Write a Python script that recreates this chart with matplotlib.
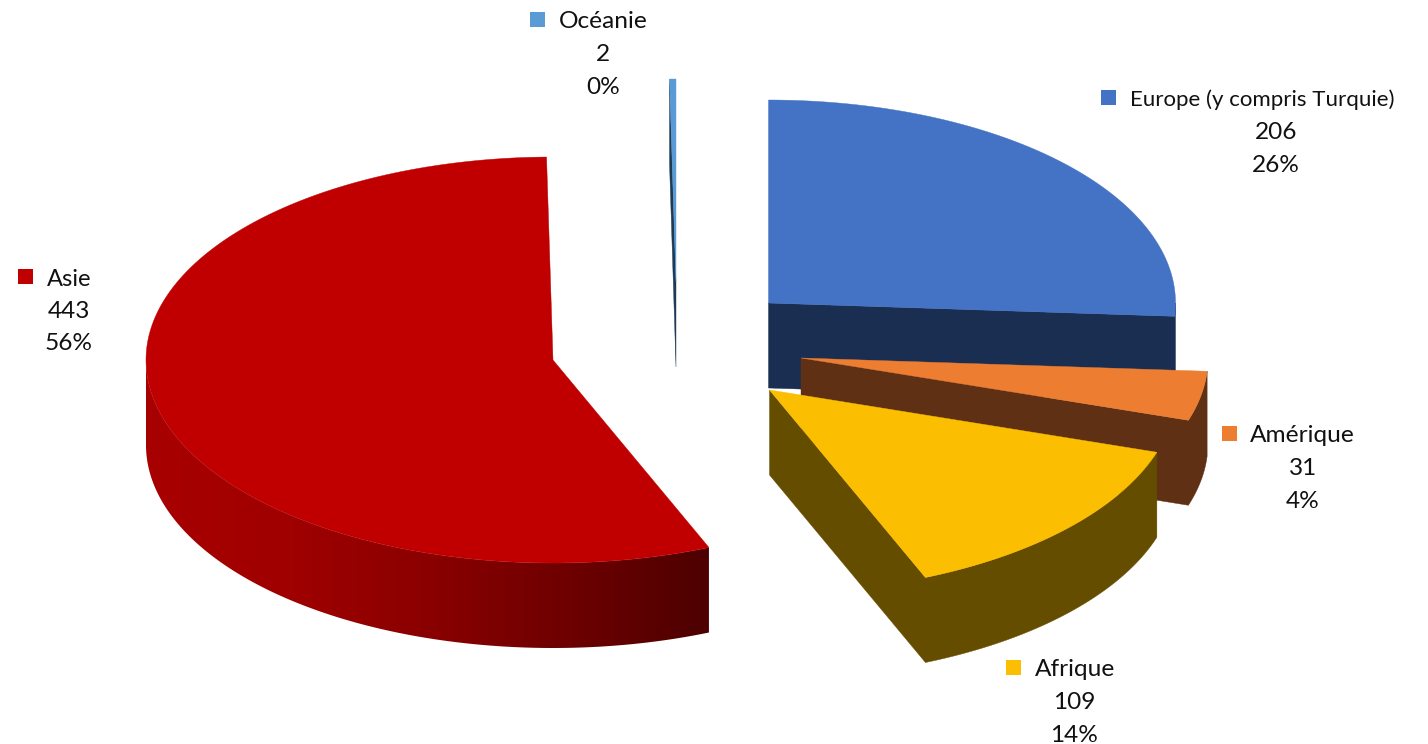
import numpy as np
import matplotlib
matplotlib.use("Agg")
import matplotlib.pyplot as plt
from matplotlib.patches import Polygon, Rectangle

# --- data ---
names = ["Europe (y compris Turquie)", "Amérique", "Afrique", "Asie", "Océanie"]
values = [206, 31, 109, 443, 2]

# --- style / layout (pixels) ---
top_colors = ["#4472C4", "#ED7D31", "#FBBE00", "#C00000", "#5B9BD5"]
wall_colors = ["#1A2E52", "#5F3013", "#654D00", "#A00000", "#1F3A55"]
apex = [(768.5, 303), (801, 358), (769.5, 390), (553, 360), (676, 282)]
label_xy = [(1276, 100), (1303, 436), (1074, 670), (69, 279), (603, 22)]
marker_x = [1101, 1222, 1006, 18, 530]
name_x = [1130, 1250, 1035, 47, 559]
name_size = [16, 17.6, 17.6, 17, 17.6]
RX, RY, DEPTH = 407, 203, 85
LINE = 32.5

plt.rcParams["font.family"] = ["Lato", "DejaVu Sans"]

fig = plt.figure(figsize=(14.28, 7.44), dpi=100)
ax = fig.add_axes([0, 0, 1, 1])


def rim(center, t0, t1, n=200):
    # clockwise from 12 o'clock, angles in degrees
    t = np.radians(np.linspace(t0, t1, n))
    return np.column_stack([center[0] + RX * np.sin(t), center[1] - RY * np.cos(t)])


def down(pts):
    return pts + np.array([0, DEPTH])


def fill(pts, color, z):
    ax.add_patch(Polygon(pts, closed=True, fc=color, ec=color, lw=0.3, zorder=z))


edges = np.concatenate([[0], np.cumsum(values)]) / sum(values) * 360
draw_order = [0, 4, 3, 1, 2]

for z, i in enumerate(draw_order):
    t0, t1 = edges[i], edges[i + 1]
    c = np.array(apex[i], dtype=float)
    base = z * 10

    if names[i] == "Océanie":
        # thin slice: only the cut face on the left shows
        edge = rim(c, t0, t0, 2)[:1]
        fill(np.vstack([edge, down(edge), down(c[None]), c[None]]), wall_colors[i], base)
    elif names[i] == "Asie":
        # outer wall with a dark gradient, left to right
        arc = rim(c, t0, 270)
        wall = Polygon(np.vstack([arc, down(arc)[::-1]]), closed=True, fc="none", ec="none",
                       transform=ax.transData)
        ax.add_patch(wall)
        grad = np.linspace(0, 1, 256).reshape(1, -1)
        cmap = matplotlib.colors.LinearSegmentedColormap.from_list(
            "asie", ["#A80000", "#A00000", "#8A0000", "#6E0000", "#4D0000"])
        im = ax.imshow(grad, cmap=cmap, extent=(arc[:, 0].min(), arc[:, 0].max(), 660, 300),
                       aspect="auto", zorder=base, interpolation="bilinear")
        im.set_clip_path(wall)
    else:
        # outer wall (front of the rim) and cut face at the slice end, as one shape
        arc = rim(c, max(t0, 90), min(t1, 270))
        fill(np.vstack([arc, c[None], down(c[None]), down(arc)[::-1]]), wall_colors[i], base)

    # top face
    fill(np.vstack([c[None], rim(c, t0, t1)]), top_colors[i], base + 2)

# --- labels ---
for i, name in enumerate(names):
    x, y = label_xy[i]
    pct = round(values[i] / sum(values) * 100)
    ax.text(name_x[i], y, name, ha="left", va="center", fontsize=name_size[i],
            color="#111111", zorder=100)
    for k, line in enumerate([str(values[i]), f"{pct}%"], start=1):
        ax.text(x, y + k * LINE, line, ha="center", va="center", fontsize=17.6,
                color="#111111", zorder=100)
    ax.add_patch(Rectangle((marker_x[i], y - 10), 15, 15, fc=top_colors[i], ec="none", zorder=100))

ax.set_xlim(0, 1428)
ax.set_ylim(744, 0)
ax.axis("off")

fig.savefig("out.png", dpi=100)
